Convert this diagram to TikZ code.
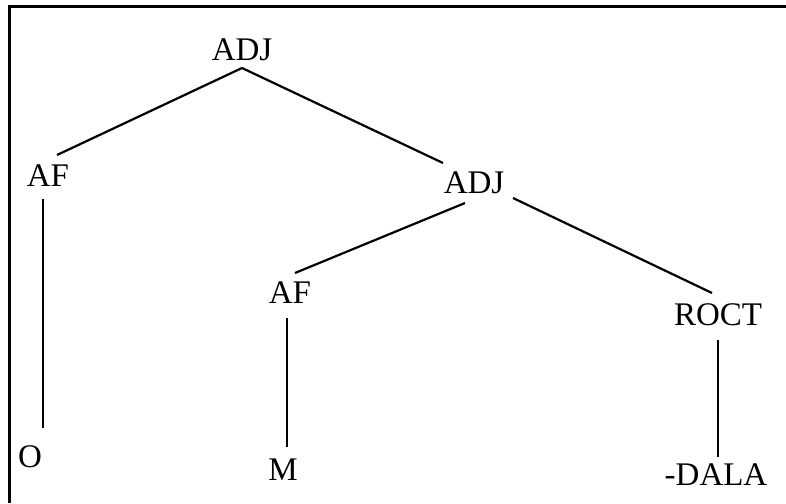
\documentclass[tikz,border=0pt]{standalone}
\usepackage{fontspec}
\setmainfont{Liberation Serif}
\begin{document}
\begin{tikzpicture}[x=1pt,y=-1pt,
  lbl/.style={inner sep=0pt,font=\fontsize{33}{33}\selectfont},
  branch/.style={line width=2.2pt},
  thinbranch/.style={line width=1.2pt}]
\useasboundingbox (0,0) rectangle (786,503);
\fill[white] (0,0) rectangle (786,503);
\draw[line width=3pt] (786,6.5) -- (9,6.5) -- (9,503);
\node[lbl] (adj1) at (242,50) {ADJ};
\node[lbl] (af1) at (48,176) {AF};
\node[lbl] (adj2) at (474,183) {ADJ};
\node[lbl] (af2) at (290,293) {AF};
\node[lbl] (roct) at (718,315) {ROCT};
\node[lbl] (o) at (30,457) {O};
\node[lbl] (m) at (283,470) {M};
\node[lbl] (dala) at (716,475) {-DALA};
\draw[branch] ([shift={(0pt,-18pt)}]adj1.center) -- ([shift={(9pt,21pt)}]af1.center);
\draw[branch] ([shift={(0pt,-18pt)}]adj1.center) -- ([shift={(-31pt,20pt)}]adj2.center);
\draw[branch] ([shift={(-9pt,-20pt)}]adj2.center) -- ([shift={(5pt,20pt)}]af2.center);
\draw[branch] ([shift={(39pt,-15pt)}]adj2.center) -- ([shift={(-6pt,22pt)}]roct.center);
\draw[thinbranch] ([shift={(-5pt,-23pt)}]af1.center) -- ([shift={(13pt,29pt)}]o.center);
\draw[branch] ([shift={(-3pt,-25pt)}]af2.center) -- ([shift={(4pt,23pt)}]m.center);
\draw[branch] ([shift={(0pt,-25pt)}]roct.center) -- ([shift={(2pt,18pt)}]dala.center);
\end{tikzpicture}
\end{document}
